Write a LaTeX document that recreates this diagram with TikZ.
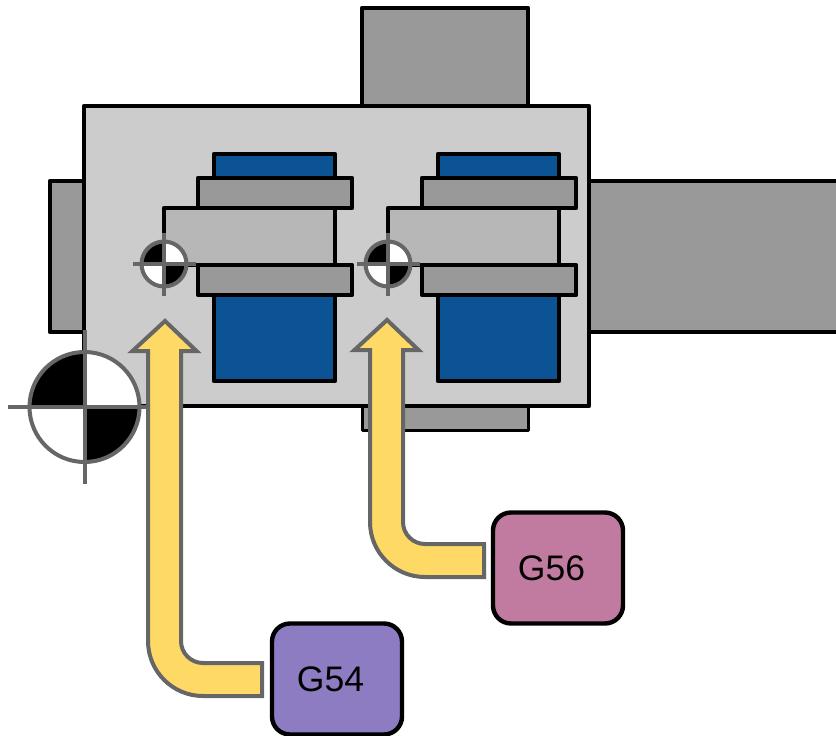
\documentclass[tikz,border=0pt]{standalone}
\usepackage{fontspec}
\setmainfont{Liberation Sans}
\definecolor{mainfill}{HTML}{CCCCCC}
\definecolor{partfill}{HTML}{999999}
\definecolor{blockfill}{HTML}{B7B7B7}
\definecolor{bluefill}{HTML}{0B5394}
\definecolor{markgray}{HTML}{666666}
\definecolor{arrowfill}{HTML}{FFD966}
\definecolor{gfiftyfour}{HTML}{8E7CC3}
\definecolor{gfiftysix}{HTML}{C27BA0}
\tikzset{
  part/.style={draw=black,line width=4.4pt,line join=round,fill=partfill},
  blockpart/.style={part,fill=blockfill},
  bluepart/.style={part,fill=bluefill},
  mainpart/.style={part,fill=mainfill},
  blockarrow/.style={draw=markgray,line width=4pt,line join=miter,miter limit=3,fill=arrowfill},
  gbox/.style={draw=black,line width=4.4pt,rounded corners=18pt,minimum width=130pt,minimum height=111pt,font=\fontsize{35.5}{36}\selectfont,inner sep=0pt,text=black},
}
\newcommand{\crossmark}[3]{%
  \fill[white] (#1) circle[radius=#2pt];
  \fill[black] (#1) -- ++(-#2,0) arc[start angle=180,end angle=90,radius=#2pt] -- cycle;
  \fill[black] (#1) -- ++(#2,0) arc[start angle=0,end angle=-90,radius=#2pt] -- cycle;
  \draw[markgray,line width=#3pt] (#1) circle[radius=#2pt];
}
\newcommand{\crosshairs}[3]{%
  \draw[markgray,line width=#3pt] (#1) ++(-#2,0) -- ++(#2,0) -- ++(#2,0);
  \draw[markgray,line width=#3pt] (#1) ++(0,-#2) -- ++(0,#2) -- ++(0,#2);
}
\newcommand{\yellowarrow}[3]{% tip, head-base to bend, bend to end
  \draw[blockarrow] (#1) -- ++(31.5,30) -- ++(-15.5,0) -- ++(0,#2)
    arc[start angle=180,end angle=270,radius=22pt] -- ++(#3,0) -- ++(0,33)
    -- ++(-#3,0) arc[start angle=270,end angle=180,radius=55pt] -- ++(0,-#2)
    -- ++(-15.5,0) -- cycle;
}
\begin{document}
\begin{tikzpicture}[x=1pt,y=-1pt]
\useasboundingbox (0,0) rectangle (836,736);
\clip (0,0) rectangle (836,736);
\draw[part] (362,8) rectangle (528,106);
\draw[part] (50,181) rectangle (84,332);
\draw[part] (589,181) rectangle (850,332);
\draw[part,line width=3pt] (362,406) rectangle (528,430);
\draw[mainpart] (84,106) rectangle (589,406);
\draw[bluepart] (214,154) rectangle (335,381);
\draw[bluepart] (438,154) rectangle (559,381);
\draw[blockpart] (164,208) rectangle (335,265);
\draw[blockpart] (388,208) rectangle (559,265);
\draw[part] (198,178) rectangle (352,208);
\draw[part] (422,178) rectangle (576,208);
\draw[part] (198,265) rectangle (352,295);
\draw[part] (422,265) rectangle (576,295);
\coordinate (bigmark) at (84.5,407);
\coordinate (markA) at (164,264);
\coordinate (markB) at (388,264);
\crossmark{bigmark}{55}{4}
\crosshairs{bigmark}{77}{4}
\crossmark{markA}{22.5}{4}
\crosshairs{markA}{31.5}{3.5}
\crossmark{markB}{22.5}{4}
\crosshairs{markB}{31.5}{3.5}
\node[gbox,fill=gfiftyfour] (g54) at (337,679) {\raisebox{-2pt}{G54\rule{13pt}{0pt}}};
\node[gbox,fill=gfiftysix] (g56) at (558,568) {\raisebox{-1pt}{G56\rule{13pt}{0pt}}};
\coordinate (tipA) at (165,321);
\coordinate (tipB) at (387,320);
\yellowarrow{tipA}{290}{59}
\yellowarrow{tipB}{172}{59}
\end{tikzpicture}
\end{document}
